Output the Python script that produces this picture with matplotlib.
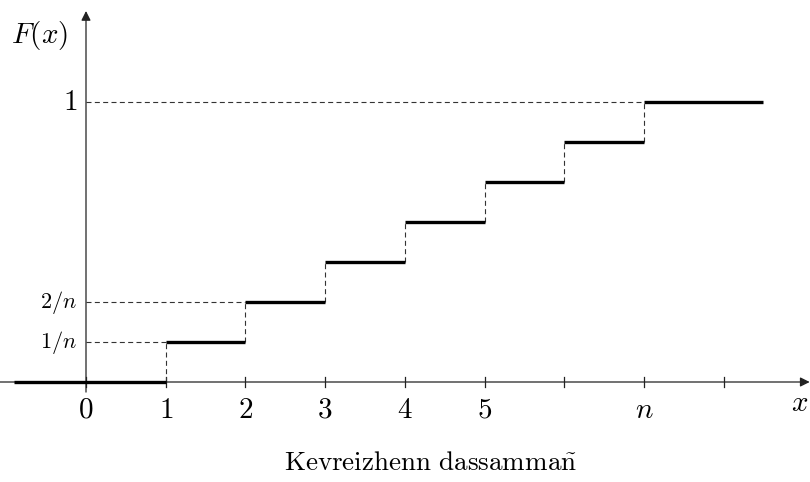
import numpy as np
import matplotlib.pyplot as plt

plt.rcParams['mathtext.fontset'] = 'cm'
plt.rcParams['font.family'] = ['DejaVu Serif']

# step function data (n drawn as 7 steps)
n_steps = 7
jump_x = [1, 2, 3, 4, 5, 6, 7]
levels = [0, 1/7, 2/7, 3/7, 4/7, 5/7, 6/7, 1]
x_start = -0.9
x_end = 8.5

tick_pos = [0, 1, 2, 3, 4, 5, 6, 7, 8]
tick_labels = ['$0$', '$1$', '$2$', '$3$', '$4$', '$5$', '', '$n$', '']

ylab_pos = [1/7, 2/7, 1]
ylab_text = ['$1/n$', '$2/n$', '$1$']
ylab_size = [16, 16, 21]
ylab_jump = [1, 2, 7]

fig = plt.figure(figsize=(8.1, 4.82), dpi=100)
ax = fig.add_axes([0, 0, 1, 1])
ax.set_xlim(-86/79.7, (810-86)/79.7)
ax.set_ylim(-100/280, 382/280)
ax.axis('off')

axis_col = '#222222'
# axes with arrows
ax.annotate('', xy=(9.08, 0), xytext=(-1.1, 0),
            arrowprops=dict(arrowstyle='-|>', color=axis_col, lw=0.9, mutation_scale=14, shrinkA=0, shrinkB=0))
ax.annotate('', xy=(0, 1.325), xytext=(0, -0.036),
            arrowprops=dict(arrowstyle='-|>', color=axis_col, lw=0.9, mutation_scale=14, shrinkA=0, shrinkB=0))

# ticks
for t in tick_pos:
    ax.plot([t, t], [-0.018, 0.018], color=axis_col, lw=0.9)

# horizontal thick segments
edges = [x_start] + jump_x + [x_end]
for i in range(len(levels)):
    ax.plot([edges[i], edges[i+1]], [levels[i], levels[i]], color='black', lw=2.4, solid_capstyle='butt', zorder=3)

# vertical dashed jumps
for i, xj in enumerate(jump_x):
    ax.plot([xj, xj], [levels[i], levels[i+1]], color='#333333', lw=0.8, dashes=(4.5, 3), zorder=2)

# horizontal dashed guides
for yp, xj in zip(ylab_pos, ylab_jump):
    ax.plot([0, xj], [yp, yp], color='#333333', lw=0.8, dashes=(4.5, 3), zorder=2)

# labels
for t, lab in zip(tick_pos, tick_labels):
    if lab:
        ax.text(t, -0.1, lab, ha='center', va='center', fontsize=21)
for yp, lab, fs in zip(ylab_pos, ylab_text, ylab_size):
    ax.text(-0.11, yp, lab, ha='right', va='center', fontsize=fs)

ax.text(-0.58, 1.239, '$F(x)$', ha='center', va='center', fontsize=21)
ax.text(8.96, -0.075, '$x$', ha='center', va='center', fontsize=21)
ax.text(4.32, -0.286, r'$\mathrm{Kevreizhenn\ dassamma\tilde{n}}$', ha='center', va='center', fontsize=19.5)

plt.savefig('out.png', dpi=100)
